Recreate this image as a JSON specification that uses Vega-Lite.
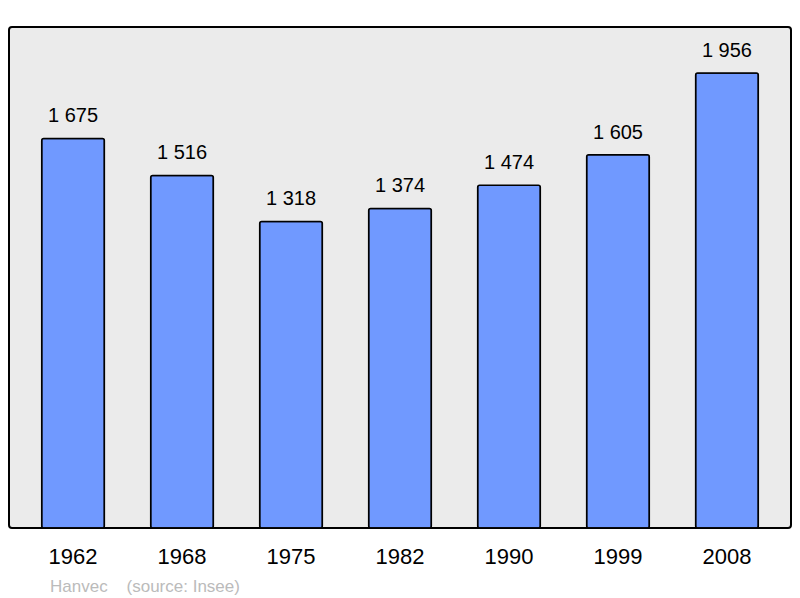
{
  "$schema": "https://vega.github.io/schema/vega-lite/v6.json",
  "width": 782,
  "height": 501,
  "autosize": {"type": "none"},
  "padding": {"left": 9, "top": 27, "right": 9, "bottom": 70},
  "background": "white",
  "config": {
    "font": "Liberation Sans",
    "view": {"fill": "#ebebeb", "stroke": "#000000", "strokeWidth": 2, "cornerRadius": 3}
  },
  "title": {
    "text": "Hanvec\u00a0\u00a0\u00a0\u00a0(source: Insee)",
    "orient": "bottom",
    "anchor": "start",
    "dx": 41,
    "offset": 12,
    "fontSize": 17,
    "fontWeight": "normal",
    "color": "#bbbbbb",
    "font": "Liberation Sans"
  },
  "data": {
    "values": [
      {"year": "1962", "pop": 1675},
      {"year": "1968", "pop": 1516},
      {"year": "1975", "pop": 1318},
      {"year": "1982", "pop": 1374},
      {"year": "1990", "pop": 1474},
      {"year": "1999", "pop": 1605},
      {"year": "2008", "pop": 1956}
    ]
  },
  "encoding": {
    "x": {
      "field": "year",
      "type": "nominal",
      "scale": {"paddingInner": 0.425, "paddingOuter": 0.3},
      "axis": {
        "title": null,
        "labelAngle": 0,
        "labelFontSize": 22,
        "labelColor": "#000000",
        "labelPadding": 18,
        "ticks": false,
        "domain": false,
        "grid": false
      }
    },
    "y": {
      "field": "pop",
      "type": "quantitative",
      "scale": {"domain": [0, 2154], "nice": false},
      "axis": null
    }
  },
  "layer": [
    {
      "mark": {"type": "bar", "fill": "#7099ff", "stroke": "#000000", "strokeWidth": 1.5, "cornerRadius": 2}
    },
    {
      "mark": {"type": "text", "dy": -22, "fontSize": 20, "color": "#000000", "baseline": "middle"},
      "encoding": {"text": {"field": "pop", "type": "quantitative", "format": ",d", "formatType": "number"}}
    }
  ],
  "usermeta": {"embedOptions": {"formatLocale": {"decimal": ",", "thousands": "\u00a0", "grouping": [3], "currency": ["", " €"]}}}
}
